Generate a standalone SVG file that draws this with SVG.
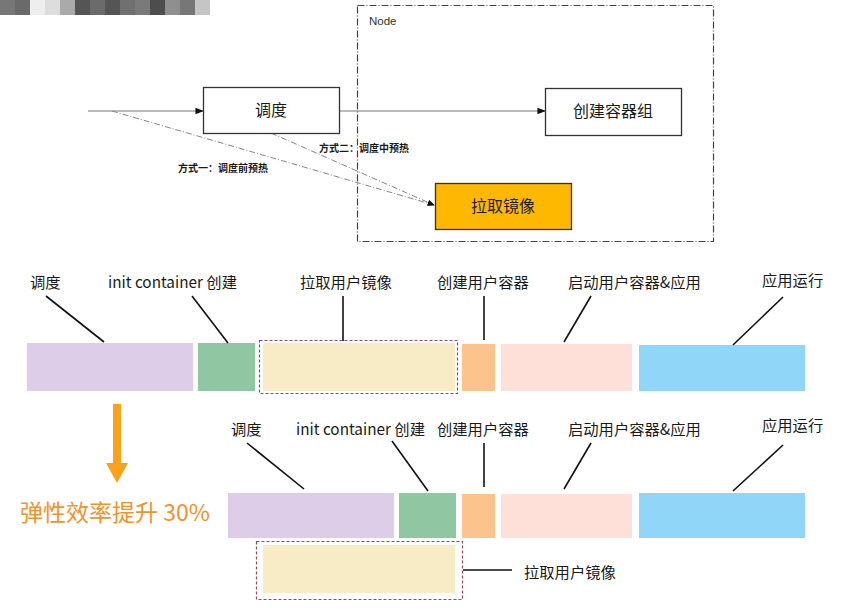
<svg xmlns="http://www.w3.org/2000/svg" width="864" height="613" viewBox="0 0 864 613">
<defs>
<style>
text{font-family:"Noto Sans CJK SC","Noto Sans",sans-serif;fill:#1a1a1a}
.box{fill:#fff;stroke:#333;stroke-width:1.3}
.lead{stroke:#111;stroke-width:1.6;fill:none}
.lbl{font-size:15.3px}
.sm{font-size:10px;font-weight:bold}
.conn{stroke:#777;stroke-width:1.2;fill:none}
.dd{stroke:#888;stroke-width:1;fill:none;stroke-dasharray:6 2 1 2}
.pull{fill:none;stroke:#9a4a5a;stroke-width:1.2;stroke-dasharray:3 2}
</style>
<marker id="ah" viewBox="0 0 10 10" refX="9" refY="5" markerWidth="7" markerHeight="7" orient="auto"><path d="M0,1 L10,5 L0,9 z" fill="#111"/></marker>
</defs>
<rect width="864" height="613" fill="#fff"/>
<g id="mosaic">
<rect x="0" y="0" width="15" height="15" fill="#777"/>
<rect x="15" y="0" width="15" height="15" fill="#6a6a6a"/>
<rect x="30" y="0" width="15" height="15" fill="#eee"/>
<rect x="45" y="0" width="15" height="15" fill="#ddd"/>
<rect x="60" y="0" width="15" height="15" fill="#aaa"/>
<rect x="75" y="0" width="15" height="15" fill="#555"/>
<rect x="90" y="0" width="15" height="15" fill="#6b6b6b"/>
<rect x="105" y="0" width="15" height="15" fill="#555"/>
<rect x="120" y="0" width="15" height="15" fill="#707070"/>
<rect x="135" y="0" width="15" height="15" fill="#7a7a7a"/>
<rect x="150" y="0" width="15" height="15" fill="#4d4d4d"/>
<rect x="165" y="0" width="15" height="15" fill="#8f8f8f"/>
<rect x="180" y="0" width="15" height="15" fill="#777"/>
<rect x="195" y="0" width="15" height="15" fill="#c5c5c5"/>
</g>
<g id="node-container">
<rect x="357.5" y="5.5" width="356" height="236" fill="none" stroke="#444" stroke-width="1.2" stroke-dasharray="7 2 1 2"/>
<text x="369" y="25" style="font-family:'Liberation Sans',sans-serif;font-size:11.5px;fill:#333">Node</text>
</g>
<g id="connectors">
<line class="conn" x1="88" y1="111" x2="203" y2="111" marker-end="url(#ah)"/>
<line class="conn" x1="339" y1="111" x2="545" y2="111" marker-end="url(#ah)"/>
<line class="dd" x1="112" y1="111" x2="434" y2="205" marker-end="url(#ah)"/>
<line class="dd" x1="271" y1="133" x2="434" y2="205" marker-end="url(#ah)"/>
</g>
<g id="n-sched">
<rect class="box" x="203.5" y="87.5" width="136" height="46"/>
<text x="271" y="116" text-anchor="middle" style="font-size:16px">调度</text>
</g>
<g id="n-create">
<rect class="box" x="545.5" y="88.5" width="136" height="47"/>
<text x="613" y="117" text-anchor="middle" style="font-size:16px">创建容器组</text>
</g>
<g id="n-pull">
<rect x="435.5" y="183.5" width="136" height="46" fill="#FFB800" stroke="#333" stroke-width="1.3"/>
<text x="503" y="212" text-anchor="middle" style="font-size:16px">拉取镜像</text>
</g>
<g id="labels-top">
<text class="sm" x="319" y="152">方式二：调度中预热</text>
<text class="sm" x="178" y="172">方式一：调度前预热</text>
</g>
<g id="row1">
<rect x="27" y="343" width="166" height="48" fill="#DDCDE8"/>
<rect x="198" y="343" width="57" height="48" fill="#90C7A2"/>
<rect x="263" y="343" width="192" height="48" fill="#F7ECC5"/>
<rect class="pull" x="259.5" y="340.5" width="198" height="53"/>
<rect x="462" y="344" width="33" height="47" fill="#FDC38C"/>
<rect x="501" y="344" width="131" height="47" fill="#FEE0D8"/>
<rect x="639" y="345" width="166" height="46" fill="#90D6F8"/>
<text class="lbl" x="30" y="288">调度</text>
<text class="lbl" x="108" y="288">init container 创建</text>
<text class="lbl" x="300" y="288">拉取用户镜像</text>
<text class="lbl" x="437" y="288">创建用户容器</text>
<text class="lbl" x="568" y="288">启动用户容器&amp;应用</text>
<text class="lbl" x="762" y="286">应用运行</text>
<line class="lead" x1="46" y1="296" x2="104" y2="342"/>
<line class="lead" x1="192" y1="296" x2="228" y2="343"/>
<line class="lead" x1="343" y1="296" x2="343" y2="341"/>
<line class="lead" x1="484" y1="296" x2="484" y2="340"/>
<line class="lead" x1="591" y1="296" x2="564" y2="342"/>
<line class="lead" x1="783" y1="297" x2="733" y2="345"/>
</g>
<g id="gain">
<rect x="113" y="404" width="8" height="60" fill="#FBA21A"/>
<path d="M106,463 L128,463 L117,483 z" fill="#FBA21A"/>
<text x="20" y="521" style="font-size:23px;fill:#F5922A">弹性效率提升 30%</text>
</g>
<g id="row2">
<rect x="228" y="493" width="166" height="45" fill="#DDCDE8"/>
<rect x="399" y="493" width="57" height="45" fill="#90C7A2"/>
<rect x="462" y="494" width="33" height="44" fill="#FDC38C"/>
<rect x="501" y="494" width="131" height="44" fill="#FEE0D8"/>
<rect x="639" y="493" width="166" height="45" fill="#90D6F8"/>
<rect x="263" y="545" width="192" height="48" fill="#F7ECC5"/>
<rect class="pull" x="256.5" y="541.5" width="206" height="58"/>
<text class="lbl" x="231" y="435">调度</text>
<text class="lbl" x="296" y="435">init container 创建</text>
<text class="lbl" x="437" y="435">创建用户容器</text>
<text class="lbl" x="568" y="435">启动用户容器&amp;应用</text>
<text class="lbl" x="762" y="431">应用运行</text>
<text class="lbl" x="524" y="578">拉取用户镜像</text>
<line class="lead" x1="247" y1="443" x2="304" y2="489"/>
<line class="lead" x1="392" y1="441" x2="428" y2="491"/>
<line class="lead" x1="484" y1="443" x2="484" y2="487"/>
<line class="lead" x1="591" y1="443" x2="564" y2="489"/>
<line class="lead" x1="783" y1="445" x2="733" y2="491"/>
<line class="lead" x1="463" y1="570" x2="512" y2="570"/>
</g>
</svg>
